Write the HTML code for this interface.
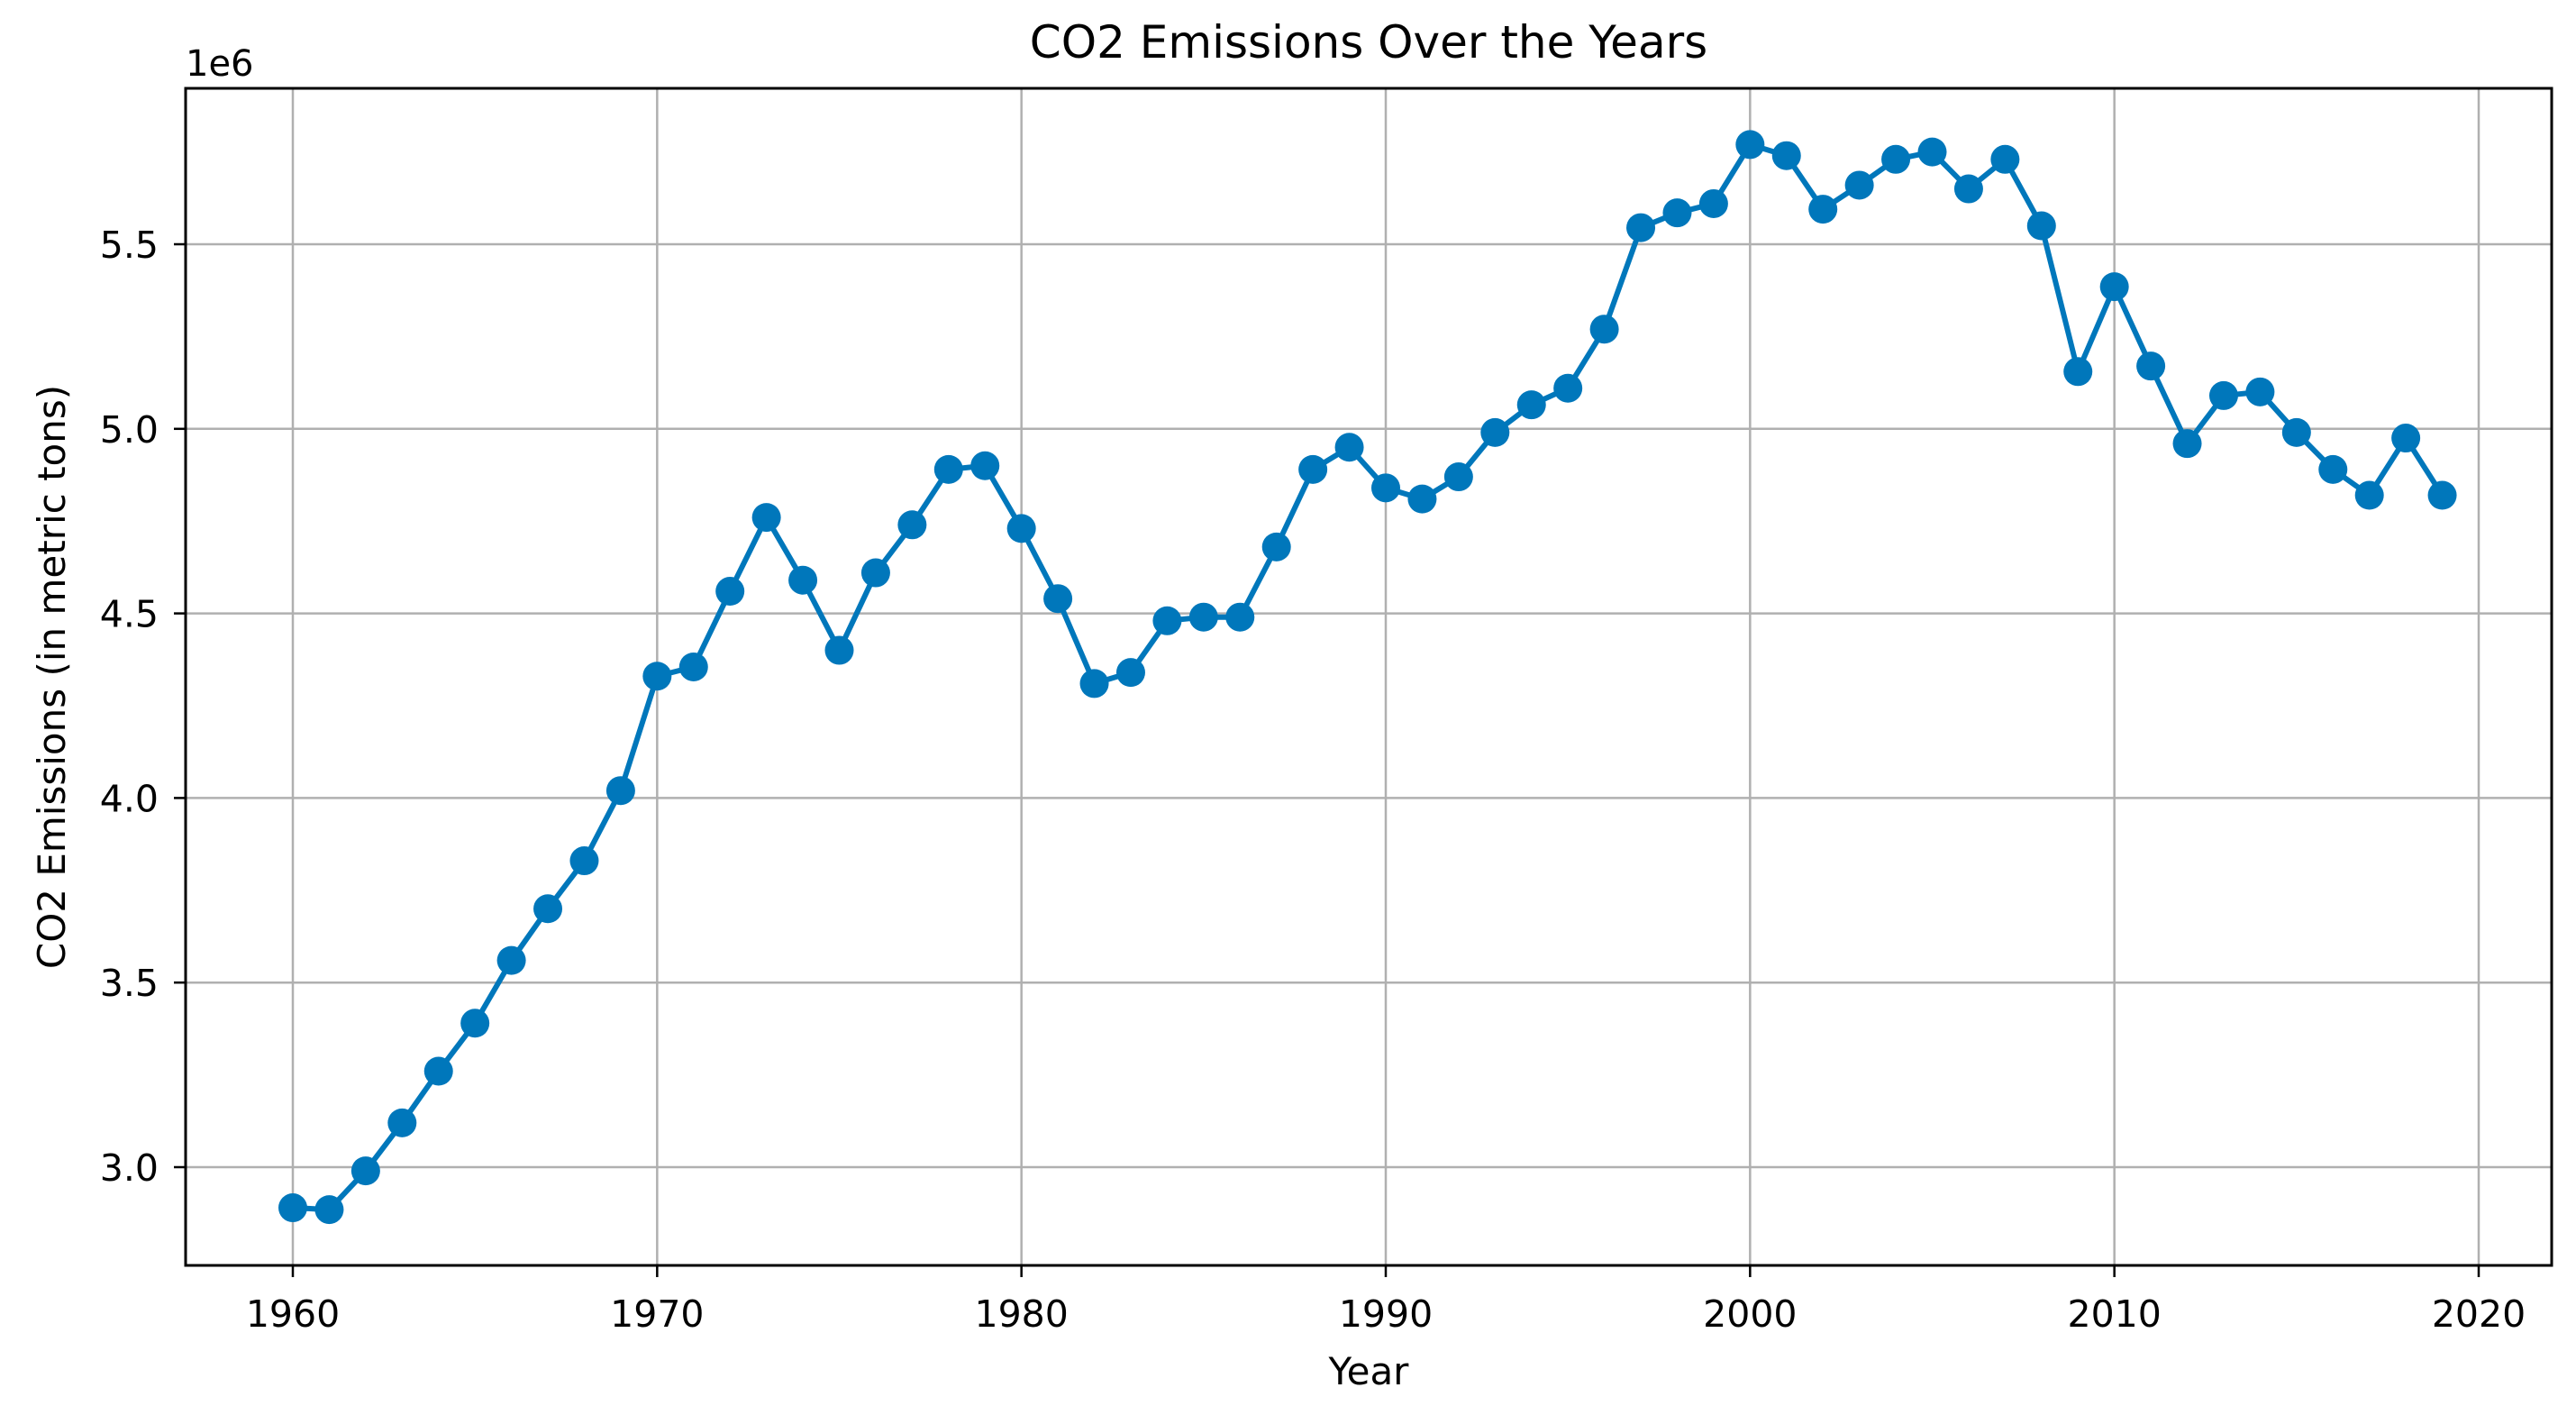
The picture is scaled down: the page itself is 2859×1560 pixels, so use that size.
<!DOCTYPE html>
<html><head><meta charset="utf-8"><style>
html,body{margin:0;padding:0;background:#fff}
svg{display:block;font-family:"DejaVu Sans","Liberation Sans",sans-serif}
</style></head><body>
<svg id="chart" width="2859" height="1560" viewBox="0 0 2859 1560" xmlns="http://www.w3.org/2000/svg">
<rect width="2859" height="1560" fill="#fff"/>
<g id="grid"></g>
<g id="series"></g>
<g id="axes"></g>
<text x="1519" y="64" font-size="50" text-anchor="middle" fill="#000">CO2 Emissions Over the Years</text>
<text x="1519" y="1536" font-size="42" text-anchor="middle" fill="#000">Year</text>
<text transform="translate(72,751) rotate(-90)" font-size="42" text-anchor="middle" fill="#000">CO2 Emissions (in metric tons)</text>
<text x="206" y="84" font-size="40" fill="#000">1e6</text>
</svg>
<script>
const years = [];
for (let y = 1960; y <= 2019; y++) years.push(y);
const emissions = [2.89,2.885,2.99,3.12,3.26,3.39,3.56,3.70,3.83,4.02,
4.33,4.355,4.56,4.76,4.59,4.40,4.61,4.74,4.89,4.90,
4.73,4.54,4.31,4.34,4.48,4.49,4.49,4.68,4.89,4.95,
4.84,4.81,4.87,4.99,5.065,5.11,5.27,5.545,5.585,5.61,
5.77,5.74,5.595,5.66,5.73,5.75,5.65,5.73,5.55,5.155,
5.385,5.17,4.96,5.09,5.10,4.99,4.89,4.82,4.975,4.82];
const xTicks = [1960,1970,1980,1990,2000,2010,2020];
const yTicks = [3.0,3.5,4.0,4.5,5.0,5.5];
const yTickLabels = ["3.0","3.5","4.0","4.5","5.0","5.5"];

const L=206,R=2832,T=98,B=1404;
const xs = v => 325 + (v-1960)*(2751-325)/60;
const ys = v => 1295 - (v-3.0)*(1295-271)/2.5;
const NS='http://www.w3.org/2000/svg';
function mk(tag, attrs, parent){const e=document.createElementNS(NS,tag);for(const k in attrs)e.setAttribute(k,attrs[k]);parent.appendChild(e);return e;}
const grid=document.getElementById('grid'), axes=document.getElementById('axes'), series=document.getElementById('series');
xTicks.forEach(t=>{
  const x=xs(t);
  const g=mk('line',{x1:x,x2:x,y1:T,y2:B,stroke:'#b0b0b0','stroke-width':2.5},grid);
  
  
  const tk=mk('line',{x1:x,x2:x,y1:B,y2:B+13,stroke:'#000','stroke-width':2.5},axes);
  
  
  const lb=mk('text',{x:x,y:1472,'font-size':41,'text-anchor':'middle',fill:'#000'},axes);
  lb.textContent=t;
  
  
});
yTicks.forEach((t,i)=>{
  const y=ys(t);
  const g=mk('line',{x1:L,x2:R,y1:y,y2:y,stroke:'#b0b0b0','stroke-width':2.5},grid);
  
  
  const tk=mk('line',{x1:L-13,x2:L,y1:y,y2:y,stroke:'#000','stroke-width':2.5},axes);
  
  
  const lb=mk('text',{x:L-30,y:y+15,'font-size':41,'text-anchor':'end',fill:'#000'},axes);
  lb.textContent=yTickLabels[i];
  
  
});
const frame=mk('rect',{x:L,y:T,width:R-L,height:B-T,fill:'none',stroke:'#000','stroke-width':3},axes);


const pts=years.map((y,i)=>xs(y)+','+ys(emissions[i])).join(' ');
const line=mk('polyline',{points:pts,fill:'none',stroke:'#0077bb','stroke-width':6,'stroke-linejoin':'round'},series);


years.forEach((y,i)=>{
  const c=mk('circle',{cx:xs(y),cy:ys(emissions[i]),r:16,fill:'#0077bb'},series);
  
  
});
</script>
</body></html>
